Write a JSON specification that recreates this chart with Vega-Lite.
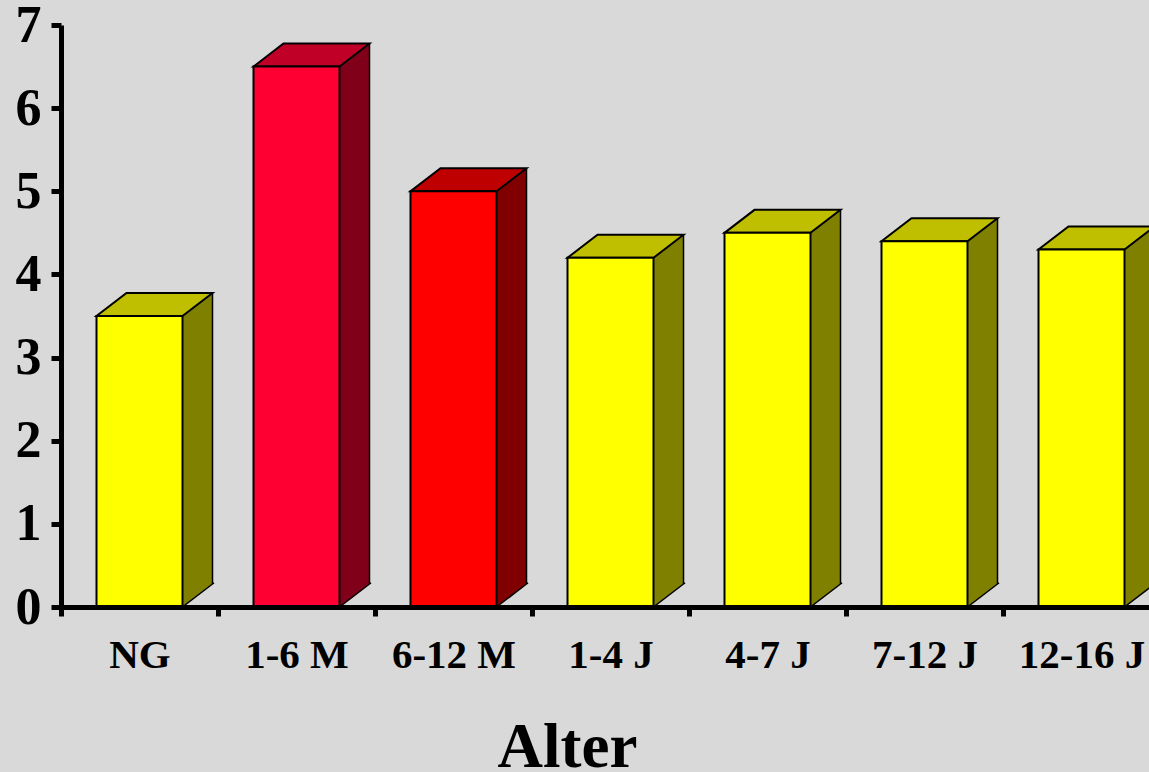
{
  "$schema": "https://vega.github.io/schema/vega-lite/v6.json",
  "autosize": {"type": "none"},
  "width": 1088,
  "height": 582,
  "padding": {"left": 61, "top": 25, "right": 0, "bottom": 165},
  "background": "#d9d9d9",
  "data": {
    "values": [
      {"Alter": "NG", "Wert": 3.5},
      {"Alter": "1-6 M", "Wert": 6.5},
      {"Alter": "6-12 M", "Wert": 5.0},
      {"Alter": "1-4 J", "Wert": 4.2},
      {"Alter": "4-7 J", "Wert": 4.5},
      {"Alter": "7-12 J", "Wert": 4.4},
      {"Alter": "12-16 J", "Wert": 4.3}
    ]
  },
  "encoding": {
    "x": {
      "field": "Alter",
      "type": "nominal",
      "sort": null,
      "scale": {
        "domain": ["NG", "1-6 M", "6-12 M", "1-4 J", "4-7 J", "7-12 J", "12-16 J"],
        "range": [0, 1099],
        "paddingInner": 0,
        "paddingOuter": 0
      },
      "axis": {
        "title": "Alter",
        "tickBand": "extent",
        "tickSize": 9,
        "tickWidth": 5,
        "tickColor": "black",
        "domainWidth": 5,
        "domainColor": "black",
        "labelAngle": 0,
        "labelFont": "Liberation Serif",
        "labelFontWeight": "bold",
        "labelFontSize": 41,
        "labelColor": "black",
        "labelBaseline": "alphabetic",
        "labelPadding": 51,
        "labelOverlap": false,
        "labelFlush": false,
        "titleFont": "Liberation Serif",
        "titleFontWeight": "bold",
        "titleFontSize": 63,
        "titleColor": "black",
        "titleBaseline": "alphabetic",
        "titleAlign": "center",
        "titleX": 506,
        "titleY": 159,
        "zindex": 1
      }
    }
  },
  "layer": [
    {
      "mark": {"type": "bar", "width": 30, "xOffset": 58, "yOffset": -23},
      "encoding": {
        "y": {
          "field": "Wert",
          "type": "quantitative",
          "scale": {"domain": [0, 7], "nice": false},
          "axis": {
            "title": null,
            "values": [0, 1, 2, 3, 4, 5, 6, 7],
            "format": "d",
            "grid": false,
            "tickSize": 10,
            "tickWidth": 5,
            "tickColor": "black",
            "domainWidth": 5,
            "domainColor": "black",
            "labelFont": "Liberation Serif",
            "labelFontWeight": "bold",
            "labelFontSize": 52,
            "labelColor": "black",
            "labelPadding": 10,
            "zindex": 1
          }
        },
        "y2": {"datum": 0},
        "color": {
          "field": "Alter",
          "type": "nominal",
          "legend": null,
          "scale": {
            "domain": ["NG", "1-6 M", "6-12 M", "1-4 J", "4-7 J", "7-12 J", "12-16 J"],
            "range": ["#808000", "#80001a", "#800000", "#808000", "#808000", "#808000", "#808000"]
          }
        }
      }
    },
    {
      "mark": {
        "type": "point",
        "shape": "M 74.5 -24.15 L 73 -23 L 43 0 L 74.5 0",
        "size": 4,
        "filled": true,
        "fill": "#d9d9d9",
        "stroke": "black",
        "strokeWidth": 1.5,
        "opacity": 1
      },
      "encoding": {"y": {"datum": 0}}
    },
    {
      "mark": {
        "type": "rule",
        "xOffset": 73,
        "yOffset": -23,
        "y2Offset": -23,
        "stroke": "black",
        "strokeWidth": 1.5
      },
      "encoding": {
        "y": {"field": "Wert", "type": "quantitative"},
        "y2": {"datum": 0}
      }
    },
    {
      "mark": {
        "type": "point",
        "shape": "M -43 0 L 43 0 L 73 -23 L -13 -23 Z",
        "size": 4,
        "filled": true,
        "stroke": "black",
        "strokeWidth": 2,
        "opacity": 1
      },
      "encoding": {
        "y": {"field": "Wert", "type": "quantitative"},
        "color": {
          "field": "Alter",
          "type": "nominal",
          "legend": null,
          "scale": {
            "domain": ["NG", "1-6 M", "6-12 M", "1-4 J", "4-7 J", "7-12 J", "12-16 J"],
            "range": ["#bfbf00", "#c00026", "#bf0000", "#bfbf00", "#bfbf00", "#bfbf00", "#bfbf00"]
          }
        }
      }
    },
    {
      "mark": {"type": "bar", "width": 86, "stroke": "black", "strokeWidth": 2},
      "encoding": {
        "y": {"field": "Wert", "type": "quantitative"},
        "y2": {"datum": 0},
        "color": {
          "field": "Alter",
          "type": "nominal",
          "legend": null,
          "scale": {
            "domain": ["NG", "1-6 M", "6-12 M", "1-4 J", "4-7 J", "7-12 J", "12-16 J"],
            "range": ["#ffff00", "#ff0033", "#ff0000", "#ffff00", "#ffff00", "#ffff00", "#ffff00"]
          }
        }
      }
    }
  ],
  "resolve": {"scale": {"color": "independent"}},
  "config": {"view": {"stroke": null}}
}
